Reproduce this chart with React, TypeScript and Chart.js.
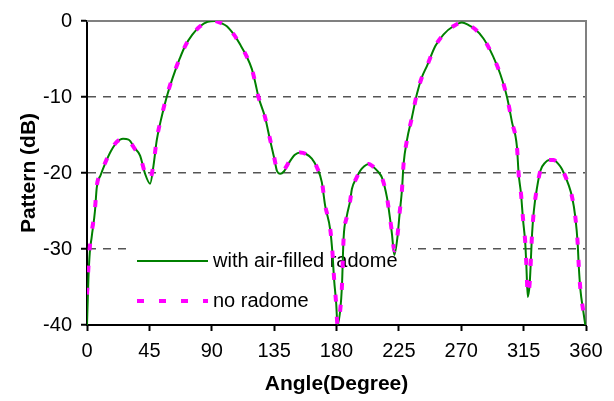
import React, { useEffect, useRef } from "react";
import { Chart, registerables } from "chart.js";

Chart.register(...registerables);

const angles = [
  0, 1, 2, 3.4, 5.8, 7, 10, 13, 17, 21.4, 26, 30, 34.7, 38.3, 41.9, 45.5, 48, 50.3, 54, 57.5,
  60.5, 63.5, 67, 70.8, 76, 81.6, 87, 92.4, 97, 100.9, 106, 110.5, 115, 118.9, 121.5, 123.7,
  128.5, 132.1, 135, 137, 139.4, 142, 146.6, 150, 153.8, 158, 162.2, 166, 169.4, 171.8, 175.5,
  177.1, 178.3, 179.8, 180.7, 182.7, 183.9, 185.1, 187.5, 189.9, 191.1, 194, 197.1, 200, 203.1,
  206, 210.3, 212.8, 216.4, 217.5, 220, 221.7, 224, 225.5, 227.2, 228.4, 230.8, 234.4, 238,
  241.6, 245.3, 251.3, 257.3, 264.5, 270.5, 275, 280.1, 286, 291, 295, 298.2, 303, 306.6,
  310.2, 311.4, 313.1, 314.6, 316.2, 317, 318, 319.4, 321.1, 322.3, 324.7, 327.1, 330.7, 333.5,
  336.7, 340, 342.7, 347.5, 350, 352.3, 354, 354.8, 356, 357.9, 359.5,
];

const withRadome = [
  -40, -34, -30.5, -28.4, -24.9, -22, -20.2, -18.8, -17.2, -16, -15.5, -15.6, -16.8, -17.7, -20.1, -21.4, -19, -15.7, -12.5, -10,
  -8.2, -6.6, -4.9, -3.3, -1.8, -0.7, -0.1, 0, -0.3, -0.7, -1.8, -3.1, -4.6, -6.3, -8.2, -10,
  -12.7, -15.7, -18, -19.7, -20.1, -19.8, -18.4, -17.6, -17.3, -17.5, -18.1, -19.3, -21.2, -24.3, -27.5,
  -30.6, -34.1, -37.2, -40, -38, -35, -28.6, -25.6, -23.6, -22.1, -20.8, -19.7, -19.1, -18.8,
  -19.1, -19.9, -20.6, -23.2, -24.5, -28, -30.8, -28.4, -25.4, -22.3, -18.8, -15.7, -12.7, -9.6,
  -7.4, -5.9, -3.3, -1.75, -0.66, -0.2, -0.5, -1.1, -2.3, -3.9, -5.5, -7, -10, -13.3,
  -16.6, -20.1, -22.7, -26.2, -29.3, -32.3, -36.3, -34.5, -28, -25.1, -21.9, -19.7, -18.6, -18.3,
  -18.3, -18.8, -19.5, -21.6, -23.2, -25.8, -29.3, -32.3, -35.4, -38, -40,
];

const noRadome = [
  -36, -32.5, -29.8, -27.8, -24.6, -21.8, -20, -18.7, -17.1, -15.9, -15.5, -15.7, -16.9, -17.8, -20, -20.8, -18.8, -15.6, -12.4, -9.9,
  -8.1, -6.5, -4.9, -3.3, -1.8, -0.7, -0.1, 0, -0.3, -0.7, -1.8, -3.1, -4.6, -6.3, -8.2, -10,
  -12.7, -15.6, -17.9, -19.5, -19.8, -19.6, -18.3, -17.6, -17.3, -17.5, -18.1, -19.3, -21.1, -24.2, -27.4,
  -30.5, -34, -37.3, -40, -38, -35, -28.7, -25.7, -23.6, -22.1, -20.8, -19.7, -19.1, -18.8,
  -19.1, -19.9, -20.6, -23.2, -24.5, -27.8, -30.2, -28.2, -25.3, -22.3, -18.8, -15.7, -12.7, -9.6,
  -7.4, -5.9, -3.3, -1.75, -0.66, -0.2, -0.5, -1.1, -2.3, -3.9, -5.5, -7, -10, -13.3,
  -16.6, -20.1, -22.7, -26.1, -29.2, -32.2, -36, -34.4, -28, -25.1, -21.9, -19.7, -18.6, -18.3,
  -18.3, -18.8, -19.5, -21.6, -23.2, -25.8, -29.3, -32.3, -35.4, -38, -40,
];

const seriesNames = ["with air-filled radome", "no radome"];
const xTitle = "Angle(Degree)";
const yTitle = "Pattern (dB)";

const FONT = "'Liberation Sans', Arial, sans-serif";

const frameAndLegend = {
  id: "frameAndLegend",
  beforeDatasetsDraw(chart: any) {
    const { ctx, chartArea } = chart;
    const { top, right, left, bottom } = chartArea;
    ctx.save();
    // top & right frame
    ctx.strokeStyle = "#808080";
    ctx.lineWidth = 2;
    ctx.beginPath();
    ctx.moveTo(left, top);
    ctx.lineTo(right, top);
    ctx.lineTo(right, bottom);
    ctx.stroke();

    // legend box
    const bx = 127, by = 240, bw = 283, bh = 78;
    ctx.fillStyle = "#ffffff";
    ctx.fillRect(bx, by, bw, bh);

    const rows = [261, 301];
    chart.data.datasets.forEach((ds: any, i: number) => {
      const y = rows[i];
      ctx.save();
      ctx.strokeStyle = ds.borderColor;
      ctx.lineWidth = ds.borderWidth;
      ctx.setLineDash(ds.borderDash || []);
      ctx.beginPath();
      ctx.moveTo(137, y);
      ctx.lineTo(208, y);
      ctx.stroke();
      ctx.restore();
      ctx.fillStyle = "#000";
      ctx.font = `20px ${FONT}`;
      ctx.textBaseline = "middle";
      ctx.textAlign = "left";
      ctx.fillText(ds.label, 213, y);
    });
    ctx.restore();
  },
};

export default function App() {
  const ref = useRef<HTMLCanvasElement | null>(null);

  useEffect(() => {
    if (!ref.current) return;
    const mk = (vals: number[]) => angles.map((a, i) => ({ x: a, y: vals[i] }));
    const chart = new Chart(ref.current, {
      type: "line",
      data: {
        datasets: [
          {
            label: seriesNames[0],
            data: mk(withRadome),
            borderColor: "#008000",
            borderWidth: 2,
            pointRadius: 0,
            cubicInterpolationMode: "monotone",
            order: 1,
          },
          {
            label: seriesNames[1],
            data: mk(noRadome),
            borderColor: "#ff00ff",
            borderWidth: 4,
            borderDash: [7, 15],
            pointRadius: 0,
            cubicInterpolationMode: "monotone",
            order: 0,
          },
        ],
      } as any,
      options: {
        responsive: false,
        animation: false,
        layout: { padding: { left: 0, top: 20, right: 28, bottom: 0 } },
        plugins: { legend: { display: false }, tooltip: { enabled: false } },
        scales: {
          x: {
            type: "linear",
            min: 0,
            max: 360,
            ticks: { stepSize: 45, color: "#000", padding: 8, font: { family: FONT, size: 20 } },
            grid: {
              drawOnChartArea: false,
              drawTicks: true,
              tickLength: 6,
              tickColor: "#000",
              tickWidth: 2,
            },
            border: { display: true, color: "#000", width: 2 },
            title: {
              display: true,
              text: xTitle,
              color: "#000",
              padding: { top: 0, bottom: 4 },
              font: { family: FONT, size: 21, weight: "bold" },
            },
            afterFit(scale: any) {
              scale.height = 76;
            },
          },
          y: {
            type: "linear",
            min: -40,
            max: 0,
            ticks: { stepSize: 10, color: "#000", padding: 9, font: { family: FONT, size: 20 } },
            grid: {
              drawOnChartArea: true,
              drawTicks: true,
              tickLength: 6,
              tickColor: "#000",
              tickWidth: 2,
              tickBorderDash: [],
              lineWidth: 1.5,
              color: (ctx: any) => {
                const v = ctx.tick ? ctx.tick.value : null;
                return v === 0 || v === -40 ? "rgba(0,0,0,0)" : "#555555";
              },
            },
            border: { display: true, color: "#000", width: 2, dash: [8, 7] },
            title: {
              display: true,
              text: yTitle,
              color: "#000",
              padding: { top: 17, bottom: 0 },
              font: { family: FONT, size: 21, weight: "bold" },
            },
            afterFit(scale: any) {
              scale.width = 87;
            },
          },
        },
      } as any,
      plugins: [frameAndLegend],
    });
    return () => chart.destroy();
  }, []);

  return (
    <div style={{ position: "fixed", left: 0, top: 0, width: 614, height: 401, background: "#fff" }}>
      <canvas ref={ref} width={614} height={401} style={{ width: 614, height: 401 }} />
    </div>
  );
}
